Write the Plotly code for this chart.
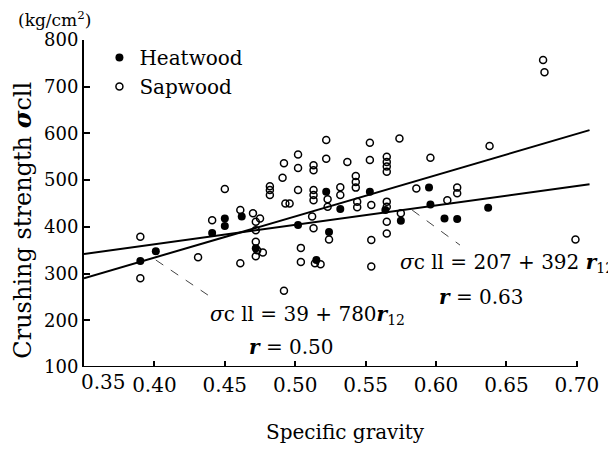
import plotly.graph_objects as go

# ---- data ----
heart_x = [0.390, 0.401, 0.441, 0.450, 0.450, 0.462, 0.472, 0.502, 0.515, 0.522,
           0.524, 0.532, 0.553, 0.564, 0.575, 0.595, 0.596, 0.606, 0.615, 0.637]
heart_y = [327, 348, 387, 418, 402, 422, 354, 404, 329, 475,
           389, 438, 475, 436, 413, 484, 448, 418, 417, 441]

sap_x = [0.390, 0.390, 0.431, 0.441, 0.450, 0.461, 0.461, 0.470, 0.475, 0.472,
         0.472, 0.472, 0.473, 0.477, 0.472, 0.482, 0.482, 0.482, 0.492, 0.491,
         0.493, 0.496, 0.502, 0.502, 0.502, 0.504, 0.504, 0.492, 0.512, 0.513,
         0.513, 0.513, 0.513, 0.513, 0.513, 0.514, 0.518, 0.522, 0.522, 0.523,
         0.523, 0.524, 0.532, 0.532, 0.537, 0.543, 0.543, 0.543, 0.544, 0.544,
         0.553, 0.553, 0.554, 0.554, 0.554, 0.565, 0.565, 0.565, 0.565, 0.565,
         0.565, 0.565, 0.565, 0.574, 0.575, 0.586, 0.596, 0.608, 0.615, 0.615,
         0.638, 0.699, 0.676, 0.677]
sap_y = [379, 290, 335, 414, 481, 436, 322, 429, 418, 411,
         393, 368, 350, 345, 337, 487, 479, 468, 536, 505,
         450, 450, 555, 526, 479, 355, 325, 263, 422, 397,
         532, 521, 479, 468, 457, 322, 320, 586, 546, 459,
         443, 373, 485, 468, 539, 509, 496, 484, 454, 442,
         580, 543, 447, 372, 315, 550, 539, 529, 518, 454,
         443, 411, 386, 589, 429, 482, 548, 457, 484, 472,
         573, 373, 757, 731]

# regression lines (end points)
line1_x = [0.35, 0.709]   # sigma = 39 + 780 r12
line1_y = [290, 607]
line2_x = [0.35, 0.709]   # sigma = 207 + 392 r12
line2_y = [342, 491]

# leader lines from the regression lines to their labels
leader1_x = [0.401, 0.438]
leader1_y = [329, 254]
leader2_x = [0.583, 0.617]
leader2_y = [436, 361]

x_tick_vals = [0.40, 0.45, 0.50, 0.55, 0.60, 0.65, 0.70]
x_tick_text = ["0.40", "0.45", "0.50", "0.55", "0.60", "0.65", "0.70"]
y_tick_vals = [100, 200, 300, 400, 500, 600, 700, 800]
y_tick_text = ["100", "200", "300", "400", "500", "600", "700", "800"]

FONT = "DejaVu Serif"

fig = go.Figure()
fig.add_trace(go.Scatter(x=line1_x, y=line1_y, mode="lines",
                         line=dict(color="black", width=2), showlegend=False))
fig.add_trace(go.Scatter(x=line2_x, y=line2_y, mode="lines",
                         line=dict(color="black", width=2), showlegend=False))
fig.add_trace(go.Scatter(x=leader1_x, y=leader1_y, mode="lines",
                         line=dict(color="#444", width=1, dash="dash"), showlegend=False))
fig.add_trace(go.Scatter(x=leader2_x, y=leader2_y, mode="lines",
                         line=dict(color="#444", width=1, dash="dash"), showlegend=False))
fig.add_trace(go.Scatter(x=heart_x, y=heart_y, mode="markers", name="Heatwood",
                         marker=dict(symbol="circle", size=8, color="black")))
fig.add_trace(go.Scatter(x=sap_x, y=sap_y, mode="markers", name="Sapwood",
                         marker=dict(symbol="circle-open", size=7, color="black",
                                     line=dict(width=1.5, color="black"))))

# bottom axis line from 0.35 to 0.70
fig.add_shape(type="line", xref="x", yref="y",
              x0=0.35, x1=x_tick_vals[-1], y0=y_tick_vals[0], y1=y_tick_vals[0],
              line=dict(color="black", width=2))

ann_font = dict(family=FONT, size=20, color="black")
fig.add_annotation(x=0.438, y=211, xref="x", yref="y", xanchor="left", yanchor="middle",
                   text="<i>σ</i>c ll = 39 + 780<i><b>r</b></i><sub>12</sub>",
                   showarrow=False, font=ann_font)
fig.add_annotation(x=0.466, y=143, xref="x", yref="y", xanchor="left", yanchor="middle",
                   text="<i><b>r</b></i> = 0.50", showarrow=False, font=ann_font)
fig.add_annotation(x=0.573, y=322, xref="x", yref="y", xanchor="left", yanchor="middle",
                   text="<i>σ</i>c ll = 207 + 392 <i><b>r</b></i><sub>12</sub>",
                   showarrow=False, font=ann_font)
fig.add_annotation(x=0.601, y=250, xref="x", yref="y", xanchor="left", yanchor="middle",
                   text="<i><b>r</b></i> = 0.63", showarrow=False, font=ann_font)

# axis titles and extra labels
fig.add_annotation(x=-0.119, y=0.45, xref="paper", yref="paper", textangle=-90,
                   xanchor="center", yanchor="middle",
                   text="Crushing strength <i><b>σ</b></i>cll", showarrow=False,
                   font=dict(family=FONT, size=24, color="black"))
fig.add_annotation(x=-0.058, y=1.064, xref="paper", yref="paper",
                   xanchor="center", yanchor="middle",
                   text="(kg/cm<sup>2</sup>)", showarrow=False,
                   font=dict(family=FONT, size=17, color="black"))
fig.add_annotation(x=0.508, y=-0.199, xref="paper", yref="paper",
                   xanchor="center", yanchor="middle",
                   text="Specific gravity", showarrow=False,
                   font=dict(family=FONT, size=20, color="black"))
fig.add_annotation(x=0.35, y=-0.047, xref="x", yref="paper", xshift=19,
                   xanchor="center", yanchor="middle", text="0.35", showarrow=False,
                   font=dict(family=FONT, size=20, color="black"))

fig.update_layout(
    width=608, height=460,
    margin=dict(l=76, r=18, t=32, b=101),
    paper_bgcolor="white", plot_bgcolor="white",
    font=dict(family=FONT, color="black"),
    legend=dict(x=0.03, y=1.006, xanchor="left", yanchor="top",
                bgcolor="rgba(0,0,0,0)", font=dict(family=FONT, size=20, color="black"),
                itemsizing="trace"),
    xaxis=dict(range=[0.35, 0.715], tickvals=x_tick_vals, ticktext=x_tick_text,
               ticks="inside", ticklen=6, tickwidth=1.5, tickcolor="black",
               showline=False, showgrid=False, zeroline=False,
               tickfont=dict(family=FONT, size=20, color="black"),
               ticklabelstandoff=4),
    yaxis=dict(range=[100, 800], tickvals=y_tick_vals, ticktext=y_tick_text,
               ticks="inside", ticklen=6, tickwidth=1.5, tickcolor="black",
               showline=True, linecolor="black", linewidth=2,
               showgrid=False, zeroline=False,
               tickfont=dict(family=FONT, size=18, color="black")),
)

fig.write_html("out.html")
